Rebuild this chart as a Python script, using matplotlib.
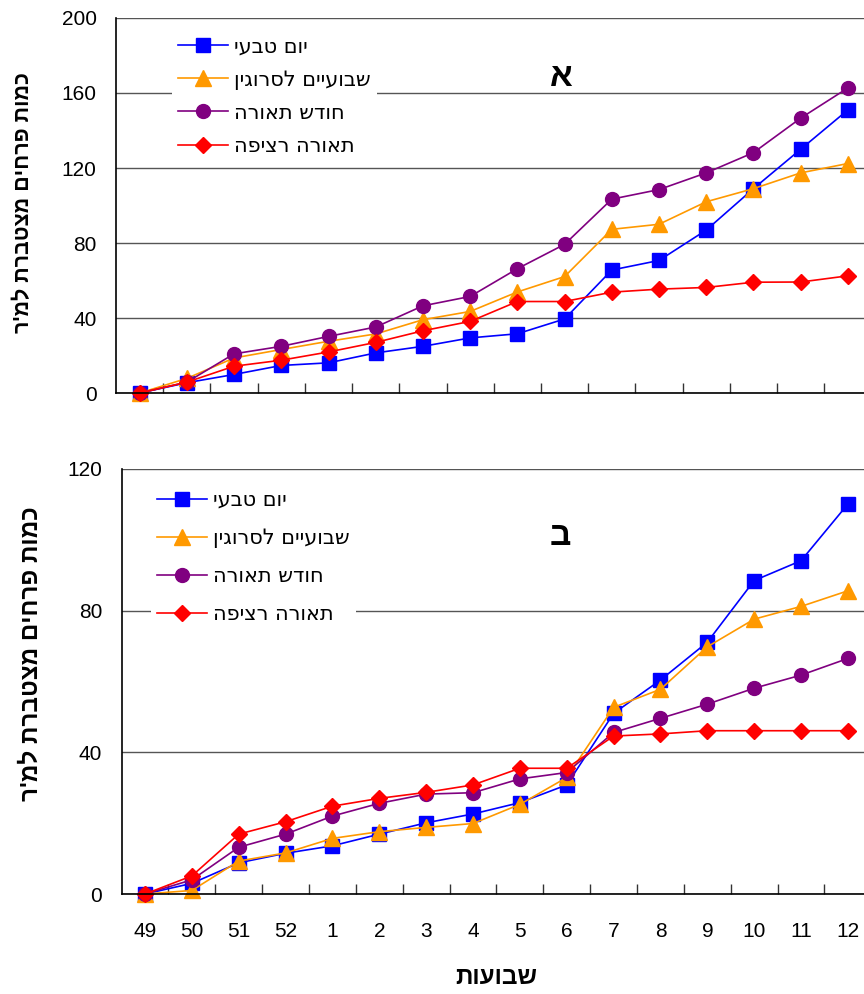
import matplotlib
matplotlib.use("Agg")
import matplotlib.pyplot as plt
import numpy as np

plt.rcParams['font.family'] = ['Liberation Sans', 'DejaVu Sans']

# weeks on the x axis
weeks = ['49', '50', '51', '52', '1', '2', '3', '4', '5', '6', '7', '8', '9', '10', '11', '12']

# series names (logical order, reversed when drawn)
names = ['יום טבעי', 'שבועיים לסרוגין', 'חודש תאורה', 'תאורה רציפה']

# panel A - cumulative flowers per m^2
a_natural = [0, 5.5, 9.9, 14.7, 16.1, 21.4, 24.9, 29.4, 31.6, 39.5, 65.6, 70.7, 86.9, 109, 130, 151]
a_alternate = [0, 7.8, 18.7, 23.2, 27.6, 31.5, 39.1, 43.5, 53.9, 62.1, 87.3, 90, 102, 109, 117.4, 122.4]
a_month = [0, 5.8, 20.9, 24.9, 30.2, 35.2, 46.5, 51.5, 66.3, 79.3, 103.4, 108.5, 117.4, 128.2, 146.6, 162.7]
a_continuous = [0, 5.8, 14.3, 17.5, 21.9, 27, 33.2, 38.2, 48.8, 48.8, 53.8, 55.4, 56.3, 59.1, 59.2, 62.5]

# panel B
b_natural = [0, 3.0, 8.8, 11.5, 13.6, 16.9, 20.1, 22.6, 25.8, 30.8, 51.0, 60.4, 71.1, 88.5, 94.1, 110.1]
b_alternate = [0, 1.0, 9.3, 11.6, 15.7, 17.6, 18.8, 19.9, 25.3, 32.9, 52.7, 57.8, 69.8, 77.6, 81.2, 85.6]
b_month = [0, 4.0, 13.2, 16.9, 22.0, 25.6, 28.2, 28.6, 32.5, 34.3, 45.6, 49.6, 53.6, 58.1, 61.8, 66.5]
b_continuous = [0, 5.1, 16.9, 20.4, 24.8, 27.0, 28.7, 30.8, 35.5, 35.5, 44.6, 45.2, 46.1, 46.1, 46.1, 46.1]

colors = ['#0000FF', '#FF9900', '#800080', '#FF0000']
markers = ['s', '^', 'o', 'D']
msizes = [9.5, 11, 10, 8.5]

ylabel = "כמות פרחים מצטברת למ'ר"
xlabel = 'שבועות'


def heb(s):
    # matplotlib has no bidi support, so feed the glyphs in visual order
    return s[::-1]


def draw_panel(ax, series, ymax, letter, letter_xy, leg_anchor, leg_spacing):
    x = np.arange(len(weeks))
    for vals, c, m, ms, nm in zip(series, colors, markers, msizes, names):
        ax.plot(x, vals, color=c, marker=m, markersize=ms, markerfacecolor=c,
                markeredgecolor=c, linewidth=1.2, label=heb(nm), clip_on=False)
    ax.set_xlim(-0.5, len(weeks) - 0.5)
    ax.set_ylim(0, ymax)
    ax.set_yticks(np.arange(0, ymax + 1, 40))
    ax.yaxis.grid(True, color='#555555', linewidth=1.0)
    ax.set_axisbelow(True)
    ax.spines['top'].set_visible(False)
    ax.spines['right'].set_visible(False)
    ax.spines['left'].set_linewidth(1.2)
    ax.spines['bottom'].set_linewidth(1.2)
    ax.tick_params(axis='y', length=0, pad=14, labelsize=15)
    ax.set_xticks(x)
    ax.set_xticks(x[:-1] + 0.5, minor=True)
    ax.tick_params(axis='x', which='major', length=0)
    ax.tick_params(axis='x', which='minor', direction='in', length=7, width=1, color='#333333')
    ax.text(letter_xy[0], letter_xy[1], heb(letter), transform=ax.transAxes,
            fontsize=24, fontweight='bold', ha='center', va='center')
    leg = ax.legend(loc='upper left', bbox_to_anchor=leg_anchor,
                    prop={'family': 'DejaVu Sans', 'size': 15},
                    frameon=True, fancybox=False, framealpha=1, edgecolor='none',
                    facecolor='white', handlelength=2.4, handletextpad=0.3,
                    labelspacing=leg_spacing, borderpad=0.3)
    leg.set_zorder(5)


fig = plt.figure(figsize=(8.64, 9.94), dpi=100)

ax1 = fig.add_axes([0.1343, 0.6046, 0.8744, 0.3773])
draw_panel(ax1, [a_natural, a_alternate, a_month, a_continuous], 200, 'א',
           (0.59, 0.84), (0.06, 0.995), 0.63)
ax1.set_xticklabels([])

ax2 = fig.add_axes([0.1407, 0.1006, 0.8678, 0.4276])
draw_panel(ax2, [b_natural, b_alternate, b_month, b_continuous], 120, 'ב',
           (0.585, 0.84), (0.025, 0.99), 0.87)
ax2.set_xticklabels(weeks, fontsize=15)
ax2.tick_params(axis='x', which='major', pad=20)
ax2.set_xlabel(heb(xlabel), fontsize=17.5, fontweight='bold', labelpad=18)

fig.text(0.027, 0.796, heb(ylabel), rotation=90, fontsize=15.5, fontweight='bold',
         ha='center', va='center')
fig.text(0.036, 0.342, heb(ylabel), rotation=90, fontsize=17.5, fontweight='bold',
         ha='center', va='center')

fig.savefig('out.png', dpi=100)
